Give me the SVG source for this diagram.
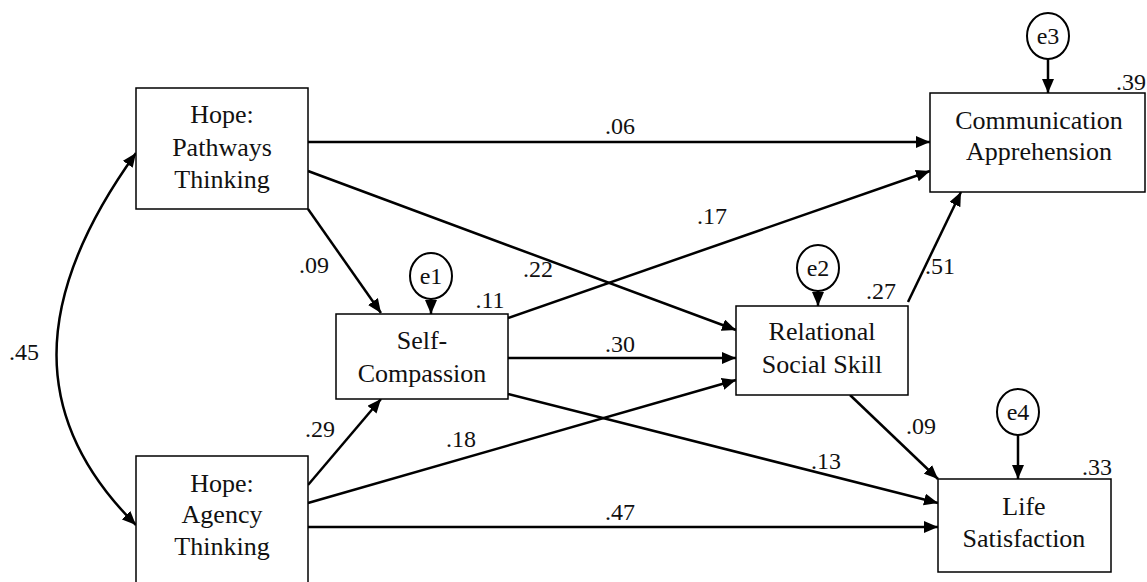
<svg xmlns="http://www.w3.org/2000/svg" width="1147" height="582" viewBox="0 0 1147 582">
<style>
.box{fill:#fff;stroke:#000;stroke-width:1.5}
.err{fill:#fff;stroke:#000;stroke-width:2}
.lbl{font-family:'Liberation Serif','Times New Roman','DejaVu Serif',Times,serif;font-size:26px;fill:#111;text-anchor:middle}
.num{font-family:'Liberation Serif','Times New Roman','DejaVu Serif',Times,serif;font-size:24px;fill:#111;text-anchor:middle}
.edge{fill:none;stroke:#000;stroke-width:2.5;marker-end:url(#ah)}
</style>
<defs>
<marker id="ah" viewBox="0 0 14 12" refX="14" refY="6" markerWidth="14" markerHeight="12" markerUnits="userSpaceOnUse" orient="auto-start-reverse">
<path d="M0,0 L14,6 L0,12 z" fill="#000"/>
</marker>
</defs>
<rect width="1147" height="582" fill="#fff"/>
<g id="connectors">
<path class="edge" d="M308,142 L930,142"/>
<path class="edge" d="M308,171 L736,330"/>
<path class="edge" d="M308,209 L381,313"/>
<path class="edge" d="M508,318 L930,171"/>
<path class="edge" d="M508,358 L736,358"/>
<path class="edge" d="M508,394 L938,503"/>
<path class="edge" d="M308,485 L381,399"/>
<path class="edge" d="M308,503 L736,380"/>
<path class="edge" d="M308,527 L938,527"/>
<path class="edge" d="M908,302 L961,192"/>
<path class="edge" d="M850,395 L938,479"/>
<path class="edge" d="M431,299 L431,314"/>
<path class="edge" d="M818,291 L818,306"/>
<path class="edge" d="M1048,59 L1048,93"/>
<path class="edge" d="M1018,435 L1018,479"/>
<path class="edge" style="marker-start:url(#ah)" d="M136,153 C30,300 30,420 136,525"/>
<text class="num" x="620" y="134">.06</text>
<text class="num" x="538" y="277">.22</text>
<text class="num" x="314" y="273">.09</text>
<text class="num" x="712" y="224">.17</text>
<text class="num" x="620" y="352">.30</text>
<text class="num" x="826" y="469">.13</text>
<text class="num" x="320" y="437">.29</text>
<text class="num" x="461" y="447">.18</text>
<text class="num" x="620" y="520">.47</text>
<text class="num" x="940" y="274">.51</text>
<text class="num" x="921" y="434">.09</text>
<text class="num" x="24" y="360">.45</text>
</g>
<g id="pathways">
<rect class="box" x="136" y="88" width="172" height="121"/>
<text class="lbl" x="222" y="123">Hope:</text>
<text class="lbl" x="222" y="156">Pathways</text>
<text class="lbl" x="222" y="188">Thinking</text>
</g>
<g id="agency">
<rect class="box" x="136" y="456" width="172" height="140"/>
<text class="lbl" x="222" y="492">Hope:</text>
<text class="lbl" x="222" y="523">Agency</text>
<text class="lbl" x="222" y="555">Thinking</text>
</g>
<g id="selfcompassion">
<rect class="box" x="336" y="314" width="172" height="85"/>
<text class="lbl" x="422" y="349">Self-</text>
<text class="lbl" x="422" y="382">Compassion</text>
<text class="num" x="490" y="308">.11</text>
</g>
<g id="relational">
<rect class="box" x="736" y="306" width="172" height="89"/>
<text class="lbl" x="822" y="340">Relational</text>
<text class="lbl" x="822" y="373">Social Skill</text>
<text class="num" x="881" y="299">.27</text>
</g>
<g id="communication">
<rect class="box" x="930" y="93" width="215" height="99"/>
<text class="lbl" x="1039" y="129">Communication</text>
<text class="lbl" x="1039" y="160">Apprehension</text>
<text class="num" x="1131" y="90">.39</text>
</g>
<g id="life">
<rect class="box" x="938" y="479" width="173" height="93"/>
<text class="lbl" x="1024" y="515">Life</text>
<text class="lbl" x="1024" y="547">Satisfaction</text>
<text class="num" x="1097" y="475">.33</text>
</g>
<g id="e1">
<ellipse class="err" cx="431" cy="276" rx="21" ry="23"/>
<text class="num" x="431" y="284">e1</text>
</g>
<g id="e2">
<ellipse class="err" cx="818" cy="268" rx="21" ry="23"/>
<text class="num" x="818" y="276">e2</text>
</g>
<g id="e3">
<ellipse class="err" cx="1048" cy="36" rx="21" ry="23"/>
<text class="num" x="1048" y="44">e3</text>
</g>
<g id="e4">
<ellipse class="err" cx="1018" cy="412" rx="21" ry="23"/>
<text class="num" x="1018" y="420">e4</text>
</g>
</svg>
